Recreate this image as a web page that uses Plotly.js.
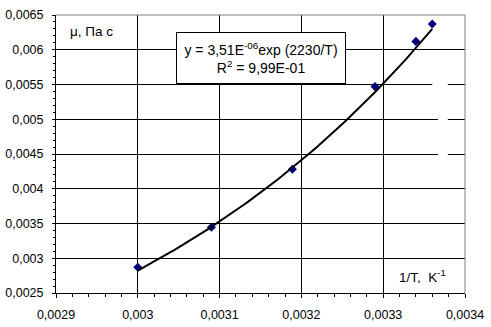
<!DOCTYPE html>
<html>
<head>
<meta charset="utf-8">
<script src="https://cdn.plot.ly/plotly-3.0.1.min.js"></script>
<style>html,body{margin:0;padding:0;background:#fff;}#chart{width:491px;height:327px;}</style>
</head>
<body>
<div id="chart"></div>
<script>
// Measured points
var invT = [0.0030, 0.00309, 0.003189, 0.00329, 0.00334, 0.00336];
var mu   = [0.00287, 0.003447, 0.00428, 0.00547, 0.00612, 0.00637];

// Trend line (from the chart's displayed equation y = A*exp(B*x))
var trendA = 3.51e-6;
var trendB = 2230;
var trendR2Text = "9,99E-01";

// Axis ticks
var xTickVals = [0.0029, 0.0030, 0.0031, 0.0032, 0.0033, 0.0034];
var xTickText = ["0,0029", "0,003", "0,0031", "0,0032", "0,0033", "0,0034"];
var yTickVals = [0.0025, 0.0030, 0.0035, 0.0040, 0.0045, 0.0050, 0.0055, 0.0060, 0.0065];
var yTickText = ["0,0025", "0,003", "0,0035", "0,004", "0,0045", "0,005", "0,0055", "0,006", "0,0065"];

var yLabel = "μ, Па с";
var xLabel = "1/T,  K<sup>-1</sup>";
var eqText = "y = 3,51E<sup>-06</sup>exp (2230/T)<br>R<sup>2</sup> = " + trendR2Text;

// trend curve across the data span
var tx = [], ty = [];
var x0 = Math.min.apply(null, invT), x1 = Math.max.apply(null, invT);
var n = 80;
for (var i = 0; i <= n; i++) {
  var x = x0 + (x1 - x0) * i / n;
  tx.push(x);
  ty.push(trendA * Math.exp(trendB * x));
}

var FONT = "Liberation Sans, Arial, sans-serif";

var data = [
  {x: invT, y: mu, type: 'scatter', mode: 'markers',
   marker: {symbol: 'diamond', size: 7, color: '#000080'}, showlegend: false, hoverinfo: 'x+y'},
  {x: tx, y: ty, type: 'scatter', mode: 'lines',
   line: {color: '#000000', width: 2}, showlegend: false, hoverinfo: 'skip'}
];

var layout = {
  width: 491, height: 327,
  margin: {l: 56, r: 26, t: 15, b: 34, pad: 0},
  paper_bgcolor: '#ffffff', plot_bgcolor: '#ffffff',
  font: {family: FONT, size: 12.5, color: '#000000'},
  separators: ', ',
  showlegend: false,
  xaxis: {
    range: [0.0029, 0.0034], autorange: false,
    tickmode: 'array', tickvals: xTickVals, ticktext: xTickText,
    ticks: 'outside', ticklen: 4, tickwidth: 1, tickcolor: '#000',
    ticklabelstandoff: 6,
    showline: true, linecolor: '#000', linewidth: 1,
    showgrid: true, gridcolor: '#000', gridwidth: 1,
    zeroline: false,
    minor: {dtick: 0.00002, tick0: 0.0029, ticks: 'outside', ticklen: 3, tickcolor: '#000', showgrid: false},
    tickfont: {family: FONT, size: 12.5, color: '#000'}
  },
  yaxis: {
    range: [0.0025, 0.0065], autorange: false,
    tickmode: 'array', tickvals: yTickVals, ticktext: yTickText,
    ticks: 'outside', ticklen: 3, tickwidth: 1, tickcolor: '#000',
    ticklabelstandoff: 6,
    showline: true, linecolor: '#000', linewidth: 1,
    showgrid: true, gridcolor: '#000', gridwidth: 1,
    zeroline: false,
    minor: {dtick: 0.0001, tick0: 0.0025, ticks: 'outside', ticklen: 2, tickcolor: '#000', showgrid: false},
    tickfont: {family: FONT, size: 12.5, color: '#000'}
  },
  shapes: [
    // grey frame top & right
    {type: 'line', xref: 'paper', yref: 'paper', x0: 0, x1: 1, y0: 1, y1: 1,
     line: {color: '#808080', width: 1}, layer: 'above'},
    {type: 'line', xref: 'paper', yref: 'paper', x0: 1, x1: 1, y0: 0, y1: 1,
     line: {color: '#808080', width: 1}, layer: 'above'},
    // blank patches where the gridlines break on the right
    {type: 'rect', xref: 'x', yref: 'y', x0: 0.00336, x1: 0.003379, y0: 0.00546, y1: 0.00554,
     fillcolor: '#ffffff', line: {width: 0}, layer: 'between'},
    {type: 'rect', xref: 'x', yref: 'y', x0: 0.003367, x1: 0.003379, y0: 0.00443, y1: 0.00546,
     fillcolor: '#ffffff', line: {width: 0}, layer: 'between'}
  ],
  annotations: [
    {xref: 'paper', yref: 'paper', x: 0.029, y: 0.939, xanchor: 'left', yanchor: 'middle',
     text: yLabel, showarrow: false, font: {family: FONT, size: 13.5, color: '#000'}},
    {xref: 'paper', yref: 'paper', x: 0.897, y: 0.061, xanchor: 'center', yanchor: 'middle',
     text: xLabel, showarrow: false, font: {family: FONT, size: 13.5, color: '#000'}},
    {xref: 'paper', yref: 'paper', x: (261 - 56) / 409, y: (293 - 58) / 278,
     xanchor: 'center', yanchor: 'middle',
     text: eqText, showarrow: false, align: 'center',
     width: 166, height: 48, borderpad: 1,
     bgcolor: '#ffffff', bordercolor: '#000000', borderwidth: 1,
     font: {family: FONT, size: 14, color: '#000'}}
  ]
};

Plotly.newPlot('chart', data, layout, {staticPlot: true, displayModeBar: false});
</script>
</body>
</html>
